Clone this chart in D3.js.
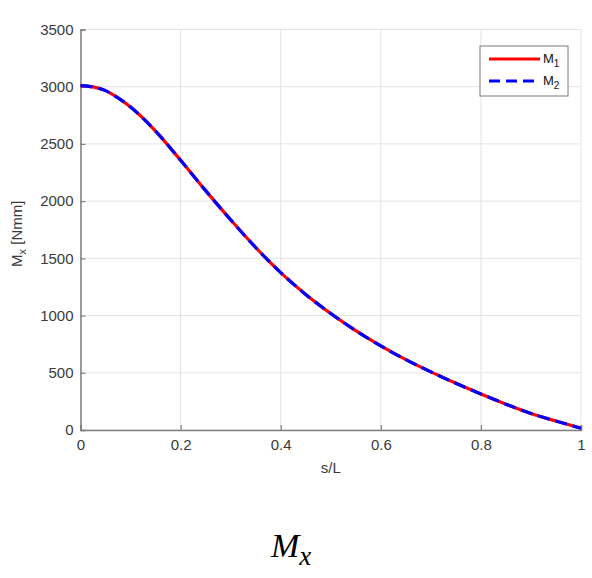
<!DOCTYPE html>
<meta charset="utf-8">
<title>Mx</title>
<style>
  body { margin: 0; background: #fff; }
  text { font-family: "Liberation Sans", Arial, sans-serif; }
</style>
<script src="https://d3js.org/d3.v7.min.js"></script>
<div id="chart"></div>
<script>
// values
var sVals = [0, 0.025, 0.05, 0.075, 0.1, 0.15, 0.2, 0.25, 0.3, 0.35, 0.4, 0.45, 0.5,
             0.55, 0.6, 0.65, 0.7, 0.75, 0.8, 0.85, 0.9, 0.95, 1];
var m1 = [3010, 2998, 2966, 2902, 2822, 2612, 2357, 2092, 1837, 1595, 1375, 1185, 1018,
          868, 735, 615, 508, 408, 315, 226, 145, 78, 15];
var m2 = [3010, 2998, 2966, 2902, 2822, 2612, 2357, 2092, 1837, 1595, 1375, 1185, 1018,
          868, 735, 615, 508, 408, 315, 226, 145, 78, 15];
var xTicks = [0, 0.2, 0.4, 0.6, 0.8, 1];
var yTicks = [0, 500, 1000, 1500, 2000, 2500, 3000, 3500];
var seriesNames = ["1", "2"];

var W = 592, H = 578;
var margin = {top: 29.5, right: 11, bottom: 148, left: 80.5};
var width = W - margin.left - margin.right,
    height = H - margin.top - margin.bottom;

var svg = d3.select("#chart").append("svg")
    .attr("width", W).attr("height", H);
var g = svg.append("g")
    .attr("transform", "translate(" + margin.left + "," + margin.top + ")");

var x = d3.scaleLinear().domain([0, 1]).range([0, width]);
var y = d3.scaleLinear().domain([0, 3500]).range([height, 0]);

// grid
g.selectAll(".gx").data(xTicks).enter().append("line")
    .attr("x1", function(d) { return x(d); }).attr("x2", function(d) { return x(d); })
    .attr("y1", 0).attr("y2", height)
    .attr("stroke", "#e4e4e4").attr("stroke-width", 1);
g.selectAll(".gy").data(yTicks).enter().append("line")
    .attr("y1", function(d) { return y(d); }).attr("y2", function(d) { return y(d); })
    .attr("x1", 0).attr("x2", width)
    .attr("stroke", "#e4e4e4").attr("stroke-width", 1);

// axes (ticks pointing inward like matlab)
var xAxis = g.append("g").attr("transform", "translate(0," + height + ")")
    .call(d3.axisBottom(x).tickValues(xTicks).tickSize(-5).tickPadding(9)
      .tickFormat(function(d) { return String(d); }));
var yAxis = g.append("g")
    .call(d3.axisLeft(y).tickValues(yTicks).tickSize(-5).tickPadding(7)
      .tickFormat(d3.format("d")));
[xAxis, yAxis].forEach(function(a) {
  a.select(".domain").attr("stroke", "#808080").attr("stroke-width", 1.5);
  a.selectAll(".tick line").attr("stroke", "#808080").attr("stroke-width", 1.2);
  a.selectAll(".tick text").attr("fill", "#3a3a3a")
    .style("font-size", "15px").style("font-family", "Liberation Sans, Arial, sans-serif");
});

// lines
var line = d3.line()
    .x(function(d) { return x(d[0]); })
    .y(function(d) { return y(d[1]); })
    .curve(d3.curveMonotoneX);

g.append("path").datum(d3.zip(sVals, m1))
    .attr("d", line).attr("fill", "none")
    .attr("stroke", "#ff0000").attr("stroke-width", 3.2);
g.append("path").datum(d3.zip(sVals, m2))
    .attr("d", line).attr("fill", "none")
    .attr("stroke", "#0000ff").attr("stroke-width", 3.2)
    .attr("stroke-dasharray", "12,6");

// axis labels
svg.append("text")
    .attr("x", margin.left + width / 2).attr("y", 473)
    .attr("text-anchor", "middle").attr("fill", "#3a3a3a")
    .style("font-size", "15px").text("s/L");

var yl = svg.append("text")
    .attr("transform", "translate(22," + (margin.top + height / 2 + 4) + ") rotate(-90)")
    .attr("text-anchor", "middle").attr("fill", "#3a3a3a")
    .style("font-size", "15px");
yl.append("tspan").text("M");
yl.append("tspan").attr("dy", 4).style("font-size", "11px").text("x");
yl.append("tspan").attr("dy", -4).text(" [Nmm]");

// legend
var leg = svg.append("g").attr("transform", "translate(480,46)");
leg.append("rect").attr("width", 88).attr("height", 50)
    .attr("fill", "#fff").attr("stroke", "#7a7a7a").attr("stroke-width", 1);
var legColors = ["#ff0000", "#0000ff"];
seriesNames.forEach(function(n, i) {
  var yy = 13 + i * 22;
  leg.append("line").attr("x1", 9).attr("x2", 60).attr("y1", yy).attr("y2", yy)
      .attr("stroke", legColors[i]).attr("stroke-width", 3)
      .attr("stroke-dasharray", i === 1 ? "11,6" : null);
  var t = leg.append("text").attr("x", 63).attr("y", yy + 4)
      .attr("fill", "#111").style("font-size", "13px");
  t.append("tspan").text("M");
  t.append("tspan").attr("dy", 4).style("font-size", "10px").text(n);
});

// caption
var cap = svg.append("text")
    .attr("x", 271).attr("y", 557)
    .style("font-family", "Liberation Serif, DejaVu Serif, serif")
    .style("font-style", "italic").attr("fill", "#000");
cap.append("tspan").style("font-size", "34px").text("M");
cap.append("tspan").attr("dy", 8).style("font-size", "27px").text("x");
</script>
